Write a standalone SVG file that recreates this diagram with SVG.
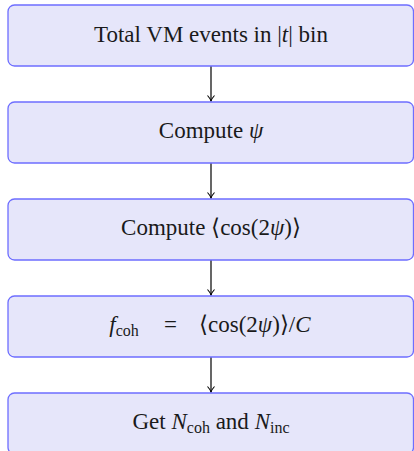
<svg xmlns="http://www.w3.org/2000/svg" width="414" height="451" viewBox="0 0 414 451">
<defs>
<style>
.box{fill:#e6e6fa;stroke:#6e6eff;stroke-width:1.3}
.c{stroke:#000;stroke-width:1.2;fill:none}
</style>
<marker id="ah" markerWidth="10" markerHeight="10" refX="7" refY="5" orient="auto" markerUnits="userSpaceOnUse">
<path d="M1.5,1.5 Q4.5,4.2 7,5 Q4.5,5.8 1.5,8.5" fill="none" stroke="#000" stroke-width="1.1"/>
</marker>
</defs>
<g id="connectors">
<line class="c" x1="211" y1="66" x2="211" y2="101" marker-end="url(#ah)"/>
<line class="c" x1="211" y1="163" x2="211" y2="198" marker-end="url(#ah)"/>
<line class="c" x1="211" y1="260" x2="211" y2="295" marker-end="url(#ah)"/>
<line class="c" x1="211" y1="357" x2="211" y2="392" marker-end="url(#ah)"/>
</g>
<g id="n1">
<rect class="box" x="8" y="5" width="405.5" height="61" rx="6.5"/>
<text font-family="'Liberation Serif', serif" font-size="23" fill="#1a1a1a" text-anchor="middle" x="211" y="41.7">Total VM events in |<tspan font-style="italic">t</tspan>| bin</text>
</g>
<g id="n2">
<rect class="box" x="8" y="102" width="405.5" height="61" rx="6.5"/>
<text font-family="'Liberation Serif', serif" font-size="23" fill="#1a1a1a" text-anchor="middle" x="211" y="137.5">Compute <tspan font-style="italic">ψ</tspan></text>
</g>
<g id="n3">
<rect class="box" x="8" y="199" width="405.5" height="61" rx="6.5"/>
<text font-family="'Liberation Serif', serif" font-size="23" fill="#1a1a1a" text-anchor="middle" x="211" y="235.3">Compute ⟨cos(2<tspan font-style="italic">ψ</tspan>)⟩</text>
</g>
<g id="n4">
<rect class="box" x="8" y="296" width="405.5" height="61" rx="6.5"/>
<text font-family="'Liberation Serif', serif" font-size="23" fill="#1a1a1a" y="331.7"><tspan x="109.3" font-style="italic">f</tspan><tspan font-size="16" dy="4">coh</tspan><tspan x="164" dy="-4">=</tspan><tspan x="199">⟨cos(2<tspan font-style="italic">ψ</tspan>)⟩/<tspan font-style="italic">C</tspan></tspan></text>
</g>
<g id="n5">
<rect class="box" x="8" y="393" width="405.5" height="61" rx="6.5"/>
<text font-family="'Liberation Serif', serif" font-size="23" fill="#1a1a1a" text-anchor="middle" x="211" y="428.5">Get <tspan font-style="italic">N</tspan><tspan font-size="16" dy="4">coh</tspan><tspan dy="-4"> and </tspan><tspan font-style="italic">N</tspan><tspan font-size="16" dy="4">inc</tspan></text>
</g>
</svg>
